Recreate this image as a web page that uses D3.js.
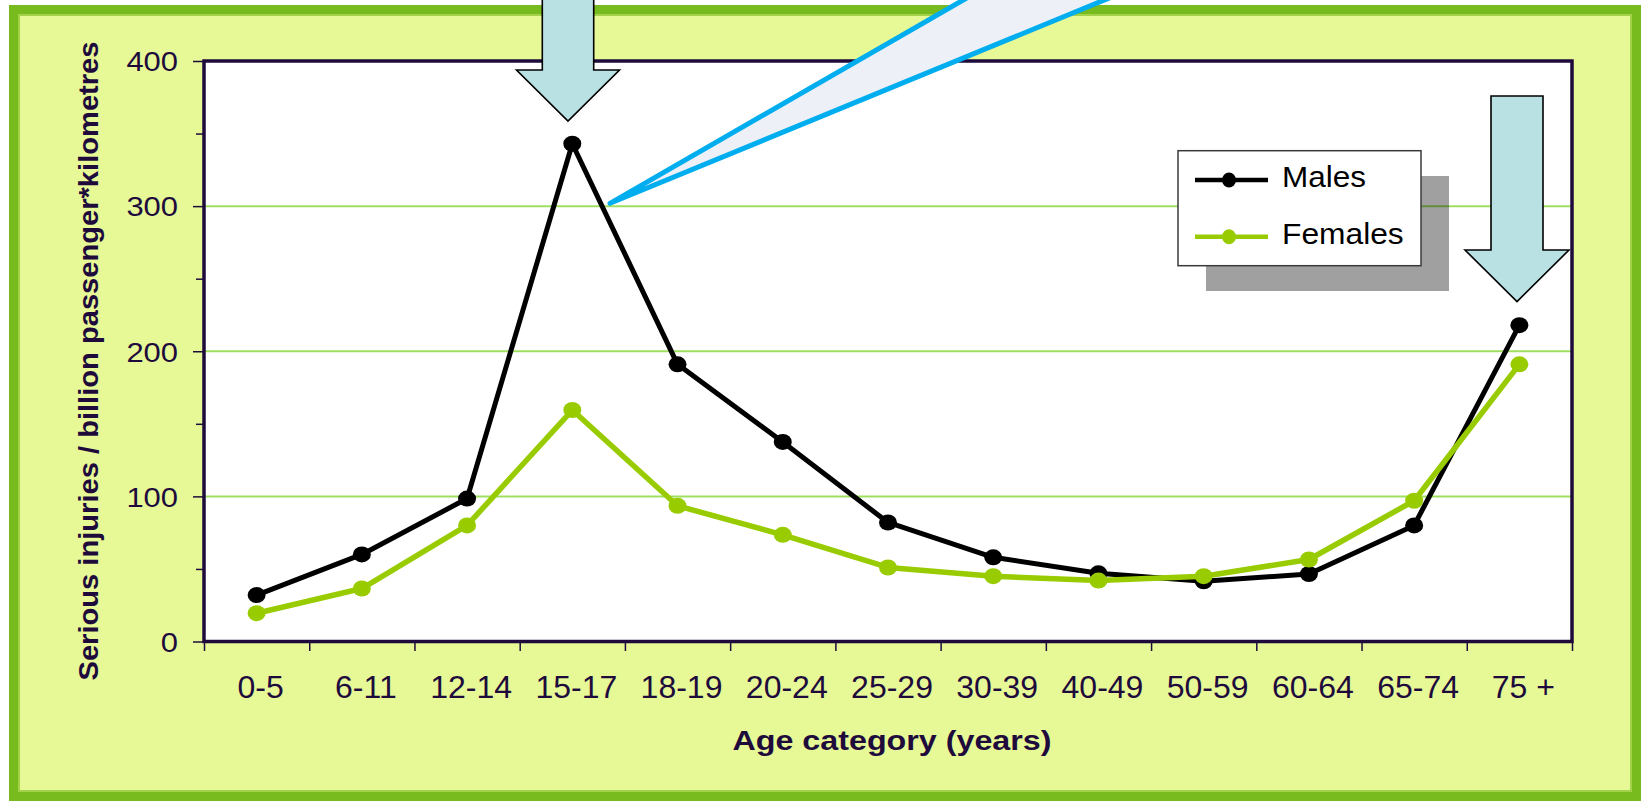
<!DOCTYPE html>
<html>
<head>
<meta charset="utf-8">
<script src="https://cdn.jsdelivr.net/npm/d3@7"></script>
<style>
  body { margin: 0; background: #ffffff; }
  svg { display: block; }
  text { font-family: "Liberation Sans", Arial, Helvetica, sans-serif; }
</style>
</head>
<body>
<svg id="chart" width="1641" height="801"></svg>
<script>
// Serious injuries per billion passenger-kilometres, by age group
const ageGroups = ["0-5", "6-11", "12-14", "15-17", "18-19", "20-24", "25-29",
                   "30-39", "40-49", "50-59", "60-64", "65-74", "75 +"];
const males   = [32, 60, 98.5, 343, 191, 137.5, 82, 58, 47, 41.5, 46.5, 80, 218];
const females = [19.5, 36.5, 80, 159.5, 93.5, 73.5, 51, 45, 42, 45, 56.5, 97, 191];
const seriesNames = ["Males", "Females"];
const yTicks = [0, 100, 200, 300, 400];
const yMinorTicks = [50, 150, 250, 350];
const yTitle = "Serious injuries / billion passenger*kilometres";
const xTitle = "Age category (years)";

const plot = { left: 204, right: 1572, top: 61, bottom: 641.5 };
const colors = {
  males: "#000000",
  females: "#99cc00",
  grid: "#9fdf5f",
  frame: "#78bb1e",
  frameInner: "#a3d24a",
  panel: "#e6f996",
  ink: "#1e0b3c",
  arrow: "#b9e0e3",
  callout: "#00aeef",
  calloutFill: "#eef0f7"
};

const svg = d3.select("#chart");

// outer panel with green frame
svg.append("rect")
  .attr("x", 13.5).attr("y", 9.5).attr("width", 1623).attr("height", 787)
  .attr("fill", colors.panel).attr("stroke", colors.frame).attr("stroke-width", 9);
svg.append("rect")
  .attr("x", 19).attr("y", 15).attr("width", 1612).attr("height", 776)
  .attr("fill", "none").attr("stroke", colors.frameInner).attr("stroke-width", 2);

// scales
const x = d3.scaleBand().domain(ageGroups).range([plot.left, plot.right]);
const xEdge = d3.scaleLinear().domain([0, ageGroups.length]).range([plot.left, plot.right]);
const y = d3.scaleLinear().domain([0, 400]).range([plot.bottom, plot.top]);
const cx = d => x(d) + x.bandwidth() / 2;

// plot area
svg.append("rect")
  .attr("x", plot.left).attr("y", plot.top)
  .attr("width", plot.right - plot.left).attr("height", plot.bottom - plot.top)
  .attr("fill", "#ffffff");

// horizontal gridlines
svg.append("g").selectAll("line")
  .data(yTicks.filter(v => v > 0 && v < 400))
  .join("line")
  .attr("x1", plot.left).attr("x2", plot.right)
  .attr("y1", d => y(d)).attr("y2", d => y(d))
  .attr("stroke", colors.grid).attr("stroke-width", 2);

// y axis: major ticks with labels, minor ticks
const yAxis = svg.append("g")
  .attr("transform", `translate(${plot.left},0)`)
  .call(d3.axisLeft(y).tickValues(yTicks).tickSize(11).tickFormat(d3.format("d")));
yAxis.select(".domain").remove();
yAxis.selectAll(".tick line").attr("stroke", colors.ink).attr("stroke-width", 1.5);
yAxis.selectAll(".tick text")
  .attr("x", -26).attr("dy", "0.35em")
  .attr("font-size", 28).attr("fill", colors.ink)
  .attr("textLength", d => String(d).length * 17.2)
  .attr("lengthAdjust", "spacingAndGlyphs");

const yMinor = svg.append("g")
  .attr("transform", `translate(${plot.left},0)`)
  .call(d3.axisLeft(y).tickValues(yMinorTicks).tickSize(8).tickFormat(""));
yMinor.select(".domain").remove();
yMinor.selectAll(".tick line").attr("stroke", colors.ink).attr("stroke-width", 1.5);

// x axis: ticks on category boundaries, labels centred in each band
const xTicksAxis = svg.append("g")
  .attr("transform", `translate(0,${plot.bottom})`)
  .call(d3.axisBottom(xEdge).tickValues(d3.range(ageGroups.length + 1)).tickSize(9.5).tickFormat(""));
xTicksAxis.select(".domain").remove();
xTicksAxis.selectAll(".tick line").attr("stroke", colors.ink).attr("stroke-width", 1.5);

const xLabels = svg.append("g")
  .attr("transform", `translate(0,${plot.bottom})`)
  .call(d3.axisBottom(x).tickSize(0));
xLabels.select(".domain").remove();
xLabels.selectAll(".tick text")
  .attr("y", 56.5).attr("dy", 0).attr("dx", 4)
  .attr("font-size", 32).attr("fill", colors.ink);

// plot frame
svg.append("rect")
  .attr("x", plot.left).attr("y", plot.top)
  .attr("width", plot.right - plot.left).attr("height", plot.bottom - plot.top)
  .attr("fill", "none").attr("stroke", colors.ink).attr("stroke-width", 3.5);

// axis titles
svg.append("text")
  .attr("transform", `translate(98,361) rotate(-90)`)
  .attr("text-anchor", "middle")
  .attr("font-size", 27).attr("font-weight", "bold").attr("fill", colors.ink)
  .attr("textLength", 639).attr("lengthAdjust", "spacingAndGlyphs")
  .text(yTitle);
svg.append("text")
  .attr("x", 892).attr("y", 750)
  .attr("text-anchor", "middle")
  .attr("font-size", 27).attr("font-weight", "bold").attr("fill", colors.ink)
  .attr("textLength", 319).attr("lengthAdjust", "spacingAndGlyphs")
  .text(xTitle);

// series lines with markers (females drawn on top)
const series = [
  { name: seriesNames[0], values: males, color: colors.males, width: 5 },
  { name: seriesNames[1], values: females, color: colors.females, width: 5.5 }
];
const line = d3.line().x((d, i) => cx(ageGroups[i])).y(d => y(d));
series.forEach(s => {
  const g = svg.append("g");
  g.append("path")
    .datum(s.values)
    .attr("d", line)
    .attr("fill", "none").attr("stroke", s.color)
    .attr("stroke-width", s.width).attr("stroke-linejoin", "round");
  g.selectAll("ellipse")
    .data(s.values)
    .join("ellipse")
    .attr("cx", (d, i) => cx(ageGroups[i])).attr("cy", d => y(d))
    .attr("rx", 9).attr("ry", 8)
    .attr("fill", s.color);
});

// legend with drop shadow
const legend = { x: 1178, y: 150.7, w: 243, h: 115 };
svg.append("rect")
  .attr("x", legend.x + 28).attr("y", legend.y + 25.3)
  .attr("width", legend.w).attr("height", legend.h)
  .attr("fill", "#000000").attr("fill-opacity", 0.373);
svg.append("rect")
  .attr("x", legend.x).attr("y", legend.y)
  .attr("width", legend.w).attr("height", legend.h)
  .attr("fill", "#ffffff").attr("stroke", "#3a3a3a").attr("stroke-width", 1.5);
const legendRows = [
  { s: series[0], ly: 180, ty: 187, tl: 84 },
  { s: series[1], ly: 236.7, ty: 243.5, tl: 121.7 }
];
legendRows.forEach(r => {
  svg.append("line")
    .attr("x1", legend.x + 17).attr("x2", legend.x + 90)
    .attr("y1", r.ly).attr("y2", r.ly)
    .attr("stroke", r.s.color).attr("stroke-width", 4.5);
  svg.append("ellipse")
    .attr("cx", legend.x + 51).attr("cy", r.ly)
    .attr("rx", 7).attr("ry", 7.5)
    .attr("fill", r.s.color);
  svg.append("text")
    .attr("x", legend.x + 104).attr("y", r.ty)
    .attr("font-size", 29).attr("fill", "#000000")
    .attr("textLength", r.tl).attr("lengthAdjust", "spacingAndGlyphs")
    .text(r.s.name);
});

// block arrows pointing at the peaks
function downArrow(cxA, top, headBase, tip, shaftHalf, headHalf) {
  return [
    [cxA - shaftHalf, top], [cxA + shaftHalf, top], [cxA + shaftHalf, headBase],
    [cxA + headHalf, headBase], [cxA, tip], [cxA - headHalf, headBase],
    [cxA - shaftHalf, headBase]
  ];
}
[
  downArrow(568, -5, 70, 121, 25.7, 51.5),
  downArrow(1517, 96, 250, 301.5, 26, 52)
].forEach(pts => {
  svg.append("polygon")
    .attr("points", pts.map(p => p.join(",")).join(" "))
    .attr("fill", colors.arrow).attr("stroke", "#000000")
    .attr("stroke-width", 1.6).attr("stroke-linejoin", "miter");
});

// callout wedge
svg.append("polygon")
  .attr("points", [[610, 203.3], [998, -20], [1153, -20]].map(p => p.join(",")).join(" "))
  .attr("fill", colors.calloutFill).attr("stroke", colors.callout)
  .attr("stroke-width", 5).attr("stroke-linejoin", "round");
</script>
</body>
</html>
